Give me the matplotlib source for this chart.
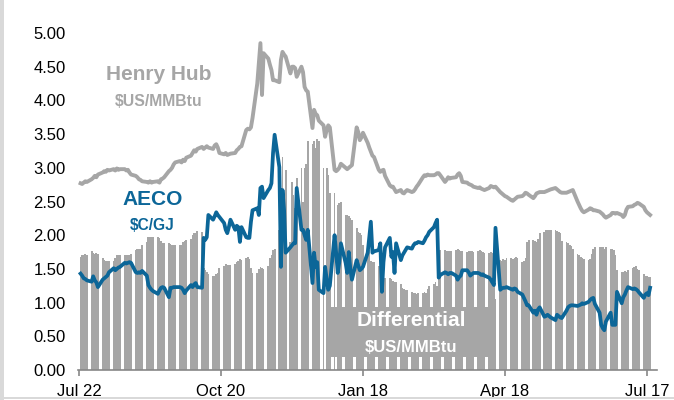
import matplotlib.pyplot as plt
import matplotlib.ticker as mticker
import pandas as pd
from matplotlib.patches import Rectangle

plt.rcParams['font.family'] = ['Liberation Sans', 'DejaVu Sans']

# Daily (business day) prices, Jul 23 2018 - Jul 19 2019, one row per week
days = pd.bdate_range('2018-07-23', '2019-07-19')

henry_hub = [
    2.77, 2.76, 2.78, 2.80, 2.79,  2.83, 2.85, 2.88, 2.86, 2.90,
    2.93, 2.95, 2.94, 2.97, 2.96,  2.98, 2.96, 2.99, 2.97, 2.98,
    2.98, 2.96, 2.97, 2.93, 2.90,  2.88, 2.86, 2.83, 2.82, 2.80,
    2.79, 2.78, 2.80, 2.78, 2.79,  2.80, 2.78, 2.83, 2.84, 2.86,
    2.95, 2.97, 3.00, 3.05, 3.08,  3.10, 3.08, 3.12, 3.10, 3.15,
    3.18, 3.22, 3.26, 3.24, 3.28,  3.31, 3.28, 3.30, 3.32, 3.30,
    3.28, 3.33, 3.35, 3.30, 3.22,  3.20, 3.22, 3.19, 3.20, 3.21,
    3.22, 3.26, 3.28, 3.31, 3.32,  3.56, 3.58, 3.57, 3.60, 3.74,
    4.25, 4.55, 4.85, 4.08, 4.70,  4.62, 4.53, 4.45, 4.30, 4.30,
    4.27, 4.60, 4.72, 4.68, 4.65,  4.40, 4.50, 4.50, 4.48, 4.35,
    4.50, 4.42, 4.20, 4.15, 4.13,  3.59, 3.86, 3.80, 3.78, 3.70,
    3.63, 3.46, 3.56, 3.63, 3.60,  2.97, 2.95, 2.97, 3.00, 3.06,
    3.00, 2.98, 3.00, 3.02, 3.04,  3.60, 3.53, 3.41, 3.45, 3.52,
    3.37, 3.30, 3.24, 3.18, 3.16,  2.97, 2.94, 2.96, 2.97, 2.88,
    2.74, 2.72, 2.72, 2.68, 2.64,  2.67, 2.63, 2.62, 2.65, 2.67,
    2.64, 2.65, 2.68, 2.72, 2.75,  2.86, 2.89, 2.88, 2.90, 2.89,
    2.89, 2.90, 2.92, 2.92, 2.89,  2.79, 2.82, 2.86, 2.84, 2.85,
    2.86, 2.90, 2.92, 2.88, 2.79,  2.78, 2.76, 2.75, 2.74, 2.72,
    2.70, 2.71, 2.69, 2.68, 2.67,  2.70, 2.73, 2.72, 2.71, 2.72,
    2.64, 2.62, 2.60, 2.58, 2.57,  2.52, 2.51, 2.53, 2.55, 2.57,
    2.58, 2.60, 2.63, 2.62, 2.60,  2.55, 2.58, 2.62, 2.63, 2.64,
    2.64, 2.65, 2.66, 2.67, 2.68,  2.70, 2.68, 2.66, 2.64, 2.63,
    2.63, 2.64, 2.65, 2.66, 2.67,  2.50, 2.45, 2.40, 2.36, 2.34,
    2.38, 2.40, 2.39, 2.37, 2.37,  2.35, 2.33, 2.31, 2.28, 2.26,
    2.30, 2.33, 2.33, 2.32, 2.33,  2.30, 2.27, 2.30, 2.38, 2.42,
    2.43, 2.45, 2.46, 2.48, 2.47,  2.42, 2.37, 2.34, 2.32, 2.30,
]

aeco = [
    1.43, 1.40, 1.36, 1.35, 1.33,  1.31, 1.39, 1.33, 1.30, 1.23,
    1.34, 1.36, 1.38, 1.40, 1.45,  1.51, 1.48, 1.50, 1.52, 1.53,
    1.59, 1.58, 1.59, 1.60, 1.59,  1.45, 1.44, 1.45, 1.44, 1.47,
    1.40, 1.26, 1.22, 1.19, 1.17,  1.13, 1.18, 1.22, 1.23, 1.22,
    1.08, 1.22, 1.22, 1.23, 1.23,  1.23, 1.22, 1.19, 1.14, 1.18,
    1.26, 1.23, 1.27, 1.29, 1.23,  1.22, 1.96, 1.93, 1.97, 2.30,
    2.23, 2.28, 2.34, 2.30, 2.27,  2.18, 2.08, 2.03, 2.12, 2.23,
    2.08, 2.14, 2.12, 1.90, 2.12,  1.97, 1.96, 1.96, 2.20, 2.37,
    2.40, 2.30, 2.70, 2.72, 2.55,  2.67, 2.70, 2.77, 3.22, 3.49,
    3.01, 1.53, 2.67, 2.37, 1.74,  1.82, 1.85, 1.88, 1.88, 2.70,
    2.08, 2.08, 2.00, 1.93, 2.08,  1.29, 1.74, 1.53, 1.60, 1.19,
    1.14, 1.53, 1.35, 1.19, 1.25,  2.00, 1.74, 1.44, 1.60, 1.88,
    1.59, 1.44, 1.75, 1.50, 1.34,  1.63, 1.55, 1.48, 1.50, 1.53,
    1.74, 1.97, 2.20, 1.74, 1.76,  1.78, 1.88, 1.16, 1.60, 1.82,
    1.96, 1.68, 1.75, 1.44, 1.88,  1.63, 1.70, 1.74, 1.78, 1.82,
    1.80, 1.85, 1.88, 1.88, 1.90,  1.88, 1.92, 1.97, 2.00, 2.05,
    2.12, 2.18, 2.23, 1.37, 1.41,  1.45, 1.44, 1.42, 1.44, 1.44,
    1.40, 1.34, 1.38, 1.40, 1.48,  1.48, 1.45, 1.40, 1.42, 1.44,
    1.44, 1.43, 1.41, 1.42, 1.40,  1.37, 1.34, 1.30, 1.26, 2.11,
    1.19, 1.21, 1.22, 1.22, 1.23,  1.20, 1.19, 1.21, 1.20, 1.16,
    1.12, 1.07, 1.02, 0.96, 0.96,  0.85, 0.88, 0.82, 0.90, 0.93,
    0.79, 0.80, 0.82, 0.80, 0.78,  0.74, 0.82, 0.80, 0.78, 0.77,
    0.88, 0.93, 0.95, 0.96, 0.96,  0.95, 0.96, 0.97, 0.99, 0.98,
    1.01, 1.04, 1.06, 1.07, 0.98,  0.85, 0.67, 0.62, 0.59, 0.72,
    0.85, 0.67, 0.67, 0.67, 1.16,  0.99, 1.08, 1.12, 1.18, 1.23,
    1.20, 1.21, 1.20, 1.18, 1.15,  1.07, 1.12, 1.14, 1.11, 1.22,
]

nan = float('nan')
differential = [
    1.68, 1.71, 1.71, 1.72, 1.70,  1.76, 1.74, 1.72, 1.73, 1.72,
    1.66, 1.63, 1.62, 1.62, 1.61,  1.62, 1.66, 1.70, 1.71, 1.71,
    1.71, 1.70, 1.71, 1.70, 1.72,  1.78, 1.79, 1.80, 1.80, 1.85,
    1.90, 1.97, 1.98, 1.97, 1.97,  1.97, 1.96, 1.92, 1.89, 1.88,
    1.88, 1.87, 1.86, 1.85, 1.85,  1.86, 1.86, 1.90, 1.92, 1.93,
    1.94, 2.00, 2.03, 2.04, 2.06,  2.05, 1.51, 1.48, 1.45, 1.42,
    1.40, 1.40, 1.42, 1.44, 1.52,  1.55, 1.58, 1.56, 1.56, 1.56,
    1.58, 1.60, 1.62, 1.64, 1.63,  1.66, 1.67, 1.65, 1.52, 1.44,
    1.44, 1.50, 1.53, 1.52, 1.50,  1.55, 1.66, 1.70, 1.78, 1.80,
    2.08, 2.35, 3.16, 2.20, 2.97,  1.90, 2.79, 2.60, 2.40, 2.85,
    3.00, 2.50, 3.00, 3.05, 3.40,  3.35, 3.40, 3.30, 3.42, 3.40,
    3.00, nan, 3.00, 2.90, 2.63,  2.63, nan, 2.45, 2.48, 2.50,
    2.30, 2.30, 2.28, 2.25, 2.22,  2.10, 2.05, 2.04, 2.00, 1.85,
    1.80, 1.78, 1.62, 1.60, 1.60,  1.55, 1.50, 1.40, 1.38, 1.37,
    1.37, 1.35, 1.32, 1.30, 1.30,  1.28, 1.22, 1.20, 1.19, 1.18,
    1.15, 1.14, 1.14, 1.13, 1.14,  1.14, 1.15, 1.14, 1.20, 1.25,
    1.28, 1.30, 1.25, 1.75, 1.78,  1.78, 1.77, 1.76, 1.77, 1.76,
    1.78, 1.80, 1.78, 1.77, 1.76,  1.75, 1.76, 1.77, 1.76, 1.75,
    1.76, 1.78, 1.76, 1.75, 1.74,  1.74, 1.75, 1.74, 1.74, 1.05,
    1.63, 1.62, 1.64, 1.63, 1.66,  1.66, 1.65, 1.66, 1.67, 1.66,
    1.60, 1.62, 1.66, 1.90, 1.93,  1.93, 1.92, 1.90, 1.94, 2.03,
    2.05, 2.07, 2.07, 2.08, 2.07,  2.07, 2.06, 2.05, 2.03, 1.92,
    1.90, 1.88, 1.85, 1.84, 1.80,  1.72, 1.70, 1.68, 1.66, 1.64,
    1.63, 1.65, 1.72, 1.80, 1.82,  1.82, 1.83, 1.82, 1.80, 1.82,
    1.80, 1.80, 1.78, 1.70, 1.48,  1.46, 1.45, 1.47, 1.45, 1.48,
    1.52, 1.53, 1.55, 1.50, 1.48,  1.42, 1.40, 1.40, 1.38, 1.38,
]

tick_dates = pd.to_datetime(['2018-07-22', '2018-10-20', '2019-01-18',
                             '2019-04-18', '2019-07-17'])
tick_labels = ['Jul 22', 'Oct 20', 'Jan 18', 'Apr 18', 'Jul 17']

GREY = '#a6a6a6'
BLUE = '#0c6698'

fig = plt.figure(figsize=(6.74, 4.0), dpi=100)
ax = fig.add_axes([78.2 / 674, 30 / 400, 579 / 674, 337 / 400])

ax.bar(days, differential, width=1.15, color=GREY, linewidth=0, zorder=1)
ax.plot(days, henry_hub, color=GREY, lw=2.8, zorder=3)
ax.plot(days, aeco, color=BLUE, lw=2.7, zorder=4)

ax.set_ylim(0, 5)
ax.set_xlim(pd.Timestamp('2018-07-21 12:00'), pd.Timestamp('2019-07-23 12:00'))
ax.yaxis.set_major_locator(mticker.MultipleLocator(0.5))
ax.yaxis.set_major_formatter(mticker.FormatStrFormatter('%.2f'))
ax.set_xticks(tick_dates)
ax.set_xticklabels(tick_labels)

for side in ['top', 'right', 'left']:
    ax.spines[side].set_visible(False)
ax.spines['bottom'].set_color('#888888')
ax.spines['bottom'].set_linewidth(1.2)
ax.tick_params(axis='y', length=0, pad=9, labelsize=12)
ax.tick_params(axis='x', length=4, width=1.2, color='#888888', pad=6, labelsize=12)

# series labels
fig.text(159 / 674, 1 - 74 / 400, 'Henry Hub', color=GREY, fontsize=15,
         fontweight='bold', ha='center', va='center')
fig.text(159 / 674, 1 - 101 / 400, '$US/MMBtu', color=GREY, fontsize=11.3,
         fontweight='bold', ha='center', va='center')
fig.text(153 / 674, 1 - 199 / 400, 'AECO', color=BLUE, fontsize=15,
         fontweight='bold', ha='center', va='center')
fig.text(152 / 674, 1 - 225 / 400, '$C/GJ', color=BLUE, fontsize=11.2,
         fontweight='bold', ha='center', va='center')

ax.add_patch(Rectangle((327 / 674, 1 - 357 / 400), 168 / 674, 50 / 400,
                       transform=fig.transFigure, color=GREY, lw=0,
                       zorder=2, clip_on=False))
fig.text(411 / 674, 1 - 320 / 400, 'Differential', color='white', fontsize=15,
         fontweight='bold', ha='center', va='center')
fig.text(411 / 674, 1 - 347 / 400, '$US/MMBtu', color='white', fontsize=12,
         fontweight='bold', ha='center', va='center')

# thin frame on the left and bottom edges
fig.add_artist(Rectangle((0, 0), 4 / 674, 1, transform=fig.transFigure,
                         color='#d9d9d9', lw=0))
fig.add_artist(Rectangle((0, 1 / 400), 1, 2 / 400, transform=fig.transFigure,
                         color='#d9d9d9', lw=0))

fig.savefig('out.png', dpi=100)
